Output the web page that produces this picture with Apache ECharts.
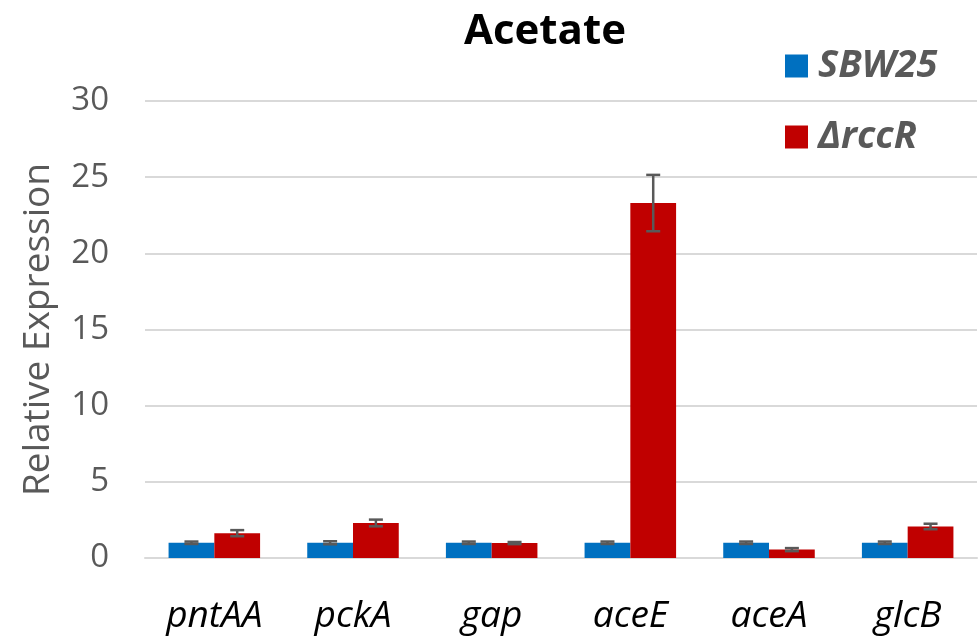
<!DOCTYPE html>
<html>
<head>
<meta charset="utf-8">
<title>Acetate</title>
<script src="https://cdn.jsdelivr.net/npm/echarts@6/dist/echarts.min.js"></script>
<style>
  html, body { margin: 0; padding: 0; background: #ffffff; }
  #chart { width: 979px; height: 636px; }
</style>
</head>
<body>
<div id="chart"></div>
<script>
// Genes on the x axis
const categories = ['pntAA', 'pckA', 'gap', 'aceE', 'aceA', 'glcB'];

// Relative expression per strain, with error (± half-range)
const sbw25 = [1.0, 1.0, 1.0, 1.0, 1.0, 1.0];
const sbw25Err = [0.08, 0.1, 0.08, 0.08, 0.08, 0.08];
const rccR = [1.63, 2.3, 0.98, 23.3, 0.55, 2.07];
const rccRErr = [0.2, 0.22, 0.07, 1.85, 0.1, 0.18];

const seriesNames = ['SBW25', 'ΔrccR'];
const yTicks = { min: 0, max: 30, interval: 5 };

const FONT = '"Open Sans", "Noto Sans", sans-serif';
const BAR_RATIO = 0.33;   // bar width as a share of the category band
const ERR_COLOR = '#595959';

// Error-bar renderer; side = -1 for the left bar, +1 for the right bar
function errorBars(side) {
  return function (params, api) {
    const c = api.value(0);
    const v = api.value(1);
    const e = api.value(2);
    const band = api.size([1, 0])[0];
    const off = side * band * BAR_RATIO / 2;
    const hi = api.coord([c, v + e]);
    const lo = api.coord([c, v - e]);
    const x = hi[0] + off;
    const cap = 7;
    const style = { stroke: ERR_COLOR, lineWidth: 2.5 };
    return {
      type: 'group',
      children: [
        { type: 'line', shape: { x1: x, y1: hi[1], x2: x, y2: lo[1] }, style },
        { type: 'line', shape: { x1: x - cap, y1: hi[1], x2: x + cap, y2: hi[1] }, style },
        { type: 'line', shape: { x1: x - cap, y1: lo[1], x2: x + cap, y2: lo[1] }, style }
      ]
    };
  };
}

const chart = echarts.init(document.getElementById('chart'), null, { renderer: 'canvas' });

chart.setOption({
  animation: false,
  backgroundColor: '#ffffff',
  title: {
    text: 'Acetate',
    left: 540,
    top: 6,
    textAlign: 'center',
    textStyle: { fontFamily: FONT, fontSize: 42, fontWeight: 'bold', color: '#000000' }
  },
  legend: {
    data: seriesNames,
    orient: 'vertical',
    left: 785,
    top: 47,
    padding: 0,
    itemWidth: 23,
    itemHeight: 23,
    itemGap: 33,
    icon: 'rect',
    textStyle: {
      fontFamily: FONT, fontSize: 38, fontWeight: 'bold', fontStyle: 'italic',
      color: '#595959', lineHeight: 23, padding: [0, 0, 0, 5]
    }
  },
  grid: { left: 145, right: 2, top: 101, bottom: 78, containLabel: false },
  xAxis: {
    type: 'category',
    data: categories,
    axisLine: { lineStyle: { color: '#d9d9d9', width: 2 } },
    axisTick: { show: false },
    axisLabel: {
      fontFamily: FONT, fontSize: 37, fontStyle: 'italic', color: '#000000', margin: 40
    }
  },
  yAxis: {
    type: 'value',
    min: yTicks.min,
    max: yTicks.max,
    interval: yTicks.interval,
    name: 'Relative Expression',
    nameLocation: 'middle',
    nameGap: 88,
    nameTextStyle: { fontFamily: FONT, fontSize: 37, color: '#595959' },
    axisLine: { show: false },
    axisTick: { show: false },
    axisLabel: { fontFamily: FONT, fontSize: 33, color: '#595959', margin: 36 },
    splitLine: { lineStyle: { color: '#d9d9d9', width: 2 } }
  },
  series: [
    {
      name: seriesNames[0],
      type: 'bar',
      data: sbw25,
      barWidth: (BAR_RATIO * 100) + '%',
      barGap: '0%',
      itemStyle: { color: '#0070C0' }
    },
    {
      name: seriesNames[1],
      type: 'bar',
      data: rccR,
      barWidth: (BAR_RATIO * 100) + '%',
      barGap: '0%',
      itemStyle: { color: '#C00000' }
    },
    {
      type: 'custom',
      name: 'sbw25-err',
      renderItem: errorBars(-1),
      data: sbw25.map((v, i) => [i, v, sbw25Err[i]]),
      encode: { x: 0, y: 1 },
      z: 10
    },
    {
      type: 'custom',
      name: 'rccR-err',
      renderItem: errorBars(1),
      data: rccR.map((v, i) => [i, v, rccRErr[i]]),
      encode: { x: 0, y: 1 },
      z: 10
    }
  ]
});
</script>
</body>
</html>
